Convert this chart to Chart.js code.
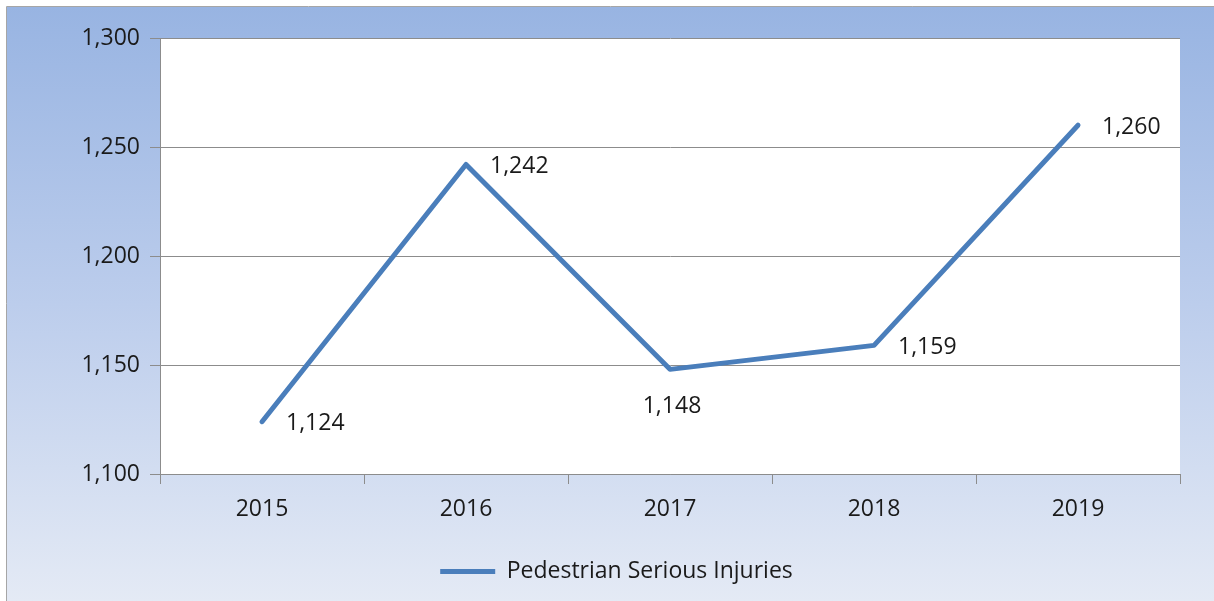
<!DOCTYPE html>
<html>
<head>
<meta charset="utf-8">
<script src="https://cdn.jsdelivr.net/npm/chart.js@4"></script>
<style>
  html, body { margin: 0; padding: 0; background: #ffffff; }
  #wrap { width: 1214px; height: 601px; }
</style>
</head>
<body>
<div id="wrap"><canvas id="injuryChart" width="1214" height="601"></canvas></div>
<script>
const years = ['2015', '2016', '2017', '2018', '2019'];
const seriousInjuries = [1124, 1242, 1148, 1159, 1260];
const yTicks = [1100, 1150, 1200, 1250, 1300];
const seriesName = 'Pedestrian Serious Injuries';

const lineBlue = '#4a7ebb';
const axisGrey = '#8c8c8c';
const fontName = "'Open Sans', 'DejaVu Sans', sans-serif";

// fond dégradé + zone de tracé blanche
const backdrop = {
  id: 'backdrop',
  afterLayout(chart) {
    // la légende est centrée sur toute la largeur du cadre, pas sur le tracé
    chart.legend.left += 23;
    chart.legend.right += 23;
  },
  beforeDraw(chart) {
    const { ctx, width, height, chartArea } = chart;
    ctx.save();
    ctx.fillStyle = '#ffffff';
    ctx.fillRect(0, 0, width, height);
    const g = ctx.createLinearGradient(0, 7, 0, height);
    g.addColorStop(0, '#98b4e2');
    g.addColorStop(0.5, '#bccdec');
    g.addColorStop(1, '#e4eaf5');
    ctx.fillStyle = g;
    ctx.fillRect(7, 7, width - 7, height - 7);
    ctx.strokeStyle = '#a6a6a6';
    ctx.lineWidth = 1;
    ctx.beginPath();
    ctx.moveTo(6.5, height);
    ctx.lineTo(6.5, 6.5);
    ctx.lineTo(width, 6.5);
    ctx.stroke();
    ctx.fillStyle = '#ffffff';
    ctx.fillRect(chartArea.left, chartArea.top, chartArea.right - chartArea.left, chartArea.bottom - chartArea.top);
    ctx.restore();
  }
};

// étiquettes de valeurs (à droite, sauf 2017 en dessous)
const valueLabels = {
  id: 'valueLabels',
  afterDatasetsDraw(chart) {
    const { ctx } = chart;
    const meta = chart.getDatasetMeta(0);
    ctx.save();
    ctx.font = '23px ' + fontName;
    ctx.fillStyle = '#1a1a1a';
    meta.data.forEach((pt, i) => {
      const txt = seriousInjuries[i].toLocaleString('en-US');
      if (i === 2) {
        ctx.textAlign = 'center';
        ctx.textBaseline = 'middle';
        ctx.fillText(txt, pt.x + 2, pt.y + 37);
      } else {
        ctx.textAlign = 'left';
        ctx.textBaseline = 'middle';
        ctx.fillText(txt, pt.x + 24, pt.y + 2);
      }
    });
    ctx.restore();
  }
};

new Chart(document.getElementById('injuryChart'), {
  type: 'line',
  data: {
    labels: years,
    datasets: [{
      label: seriesName,
      data: seriousInjuries,
      borderColor: lineBlue,
      backgroundColor: lineBlue,
      borderWidth: 5,
      borderCapStyle: 'round',
      borderJoinStyle: 'round',
      pointRadius: 0,
      pointHoverRadius: 0,
      tension: 0,
      fill: false
    }]
  },
  options: {
    responsive: false,
    animation: false,
    events: [],
    layout: { padding: { left: 7, top: 38, right: 34, bottom: 8 } },
    plugins: {
      tooltip: { enabled: false },
      legend: {
        position: 'bottom',
        labels: {
          usePointStyle: true,
          pointStyle: 'line',
          pointStyleWidth: 55,
          color: '#1a1a1a',
          font: { family: fontName, size: 23 },
          padding: 9
        }
      }
    },
    scales: {
      x: {
        offset: true,
        grid: {
          offset: true,
          drawOnChartArea: false,
          color: axisGrey,
          tickLength: 10
        },
        border: { color: axisGrey, width: 1 },
        ticks: { color: '#1a1a1a', font: { family: fontName, size: 23 }, padding: 12 },
        afterFit(s) { s.height = 77; }
      },
      y: {
        min: 1100,
        max: 1300,
        afterBuildTicks(s) { s.ticks = yTicks.map(v => ({ value: v })); },
        grid: { color: axisGrey, tickLength: 10 },
        border: { color: axisGrey, width: 1 },
        ticks: {
          color: '#1a1a1a',
          font: { family: fontName, size: 23 },
          padding: 10,
          callback: v => v.toLocaleString('en-US')
        },
        afterFit(s) { s.width = 153; }
      }
    }
  },
  plugins: [backdrop, valueLabels]
});
</script>
</body>
</html>
